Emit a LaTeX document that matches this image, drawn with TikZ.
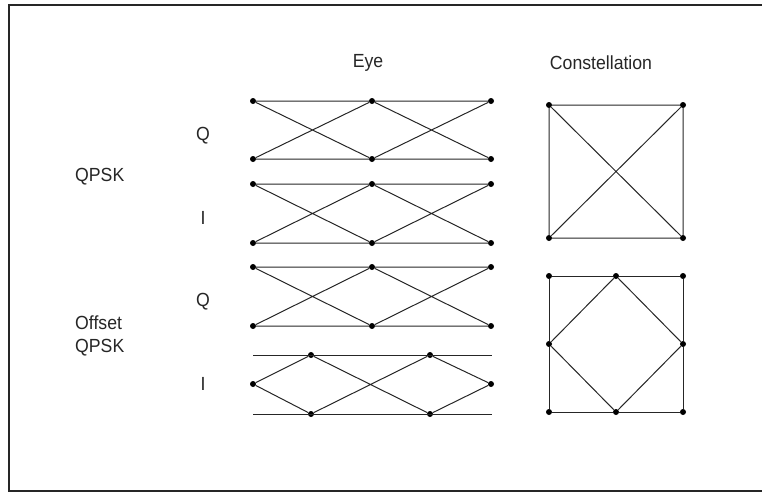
\documentclass[tikz,border=0pt]{standalone}
\usepackage{fontspec}
\setmainfont{Liberation Sans}[FakeStretch=0.93]
\begin{document}
\begin{tikzpicture}[x=1pt,y=-1pt,
  dot/.style={circle,fill=black,inner sep=0pt,minimum size=6pt},
  wire/.style={draw=black!85,line width=1pt},
  lbl/.style={font=\fontsize{19}{23}\selectfont,inner sep=0pt,text=black!85}]
\useasboundingbox (0,0) rectangle (762,493);
\draw[line width=2pt,black!85] (770,4.5) -- (8.5,4.5) -- (8.5,490.5) -- (770,490.5);

% labels
\node[lbl] (eye) at (368,63) {Eye};
\node[lbl] (con) at (601,63) {Constellation};
\node[lbl] (q1) at (203,136) {Q};
\node[lbl,anchor=west] (qpsk) at (75,177) {QPSK};
\node[lbl] (i1) at (203,218) {I};
\node[lbl] (q2) at (203,302) {Q};
\node[lbl,anchor=west,align=left] (oqpsk) at (75,336) {Offset\\QPSK};
\node[lbl] (i2) at (203,384) {I};

% QPSK Q eye
\node[dot] (a1) at (253,101) {};
\node[dot] (a2) at (372,101) {};
\node[dot] (a3) at (491,101) {};
\node[dot] (a4) at (253,159) {};
\node[dot] (a5) at (372,159) {};
\node[dot] (a6) at (491,159) {};
\draw[wire] (a1)--(a2)--(a3) (a4)--(a5)--(a6) (a1)--(a5)--(a3) (a4)--(a2)--(a6);

% QPSK I eye
\node[dot] (b1) at (253,184) {};
\node[dot] (b2) at (372,184) {};
\node[dot] (b3) at (491,184) {};
\node[dot] (b4) at (253,243) {};
\node[dot] (b5) at (372,243) {};
\node[dot] (b6) at (491,243) {};
\draw[wire] (b1)--(b2)--(b3) (b4)--(b5)--(b6) (b1)--(b5)--(b3) (b4)--(b2)--(b6);

% Offset Q eye
\node[dot] (c1) at (253,267) {};
\node[dot] (c2) at (372,267) {};
\node[dot] (c3) at (491,267) {};
\node[dot] (c4) at (253,326) {};
\node[dot] (c5) at (372,326) {};
\node[dot] (c6) at (491,326) {};
\draw[wire] (c1)--(c2)--(c3) (c4)--(c5)--(c6) (c1)--(c5)--(c3) (c4)--(c2)--(c6);

% Offset I eye
\coordinate (dtl) at (253,355);
\coordinate (dtr) at (492,355);
\coordinate (dbl) at (253,414);
\coordinate (dbr) at (492,414);
\node[dot] (d1) at (253,384) {};
\node[dot] (d2) at (311,355) {};
\node[dot] (d3) at (311,414) {};
\node[dot] (d4) at (430,355) {};
\node[dot] (d5) at (430,414) {};
\node[dot] (d6) at (491,384) {};
\draw[wire] (dtl)--(dtr) (dbl)--(dbr);
\draw[wire] (d1)--(d2)--(d5)--(d6) (d1)--(d3)--(d4)--(d6);

% QPSK constellation
\node[dot] (e1) at (549,105) {};
\node[dot] (e2) at (683,105) {};
\node[dot] (e3) at (683,238) {};
\node[dot] (e4) at (549,238) {};
\draw[wire] (e1)--(e2)--(e3)--(e4)--(e1) (e1)--(e3) (e2)--(e4);

% Offset QPSK constellation
\node[dot] (f1) at (549,276) {};
\node[dot] (f2) at (616,276) {};
\node[dot] (f3) at (683,276) {};
\node[dot] (f4) at (683,344) {};
\node[dot] (f5) at (683,412) {};
\node[dot] (f6) at (616,412) {};
\node[dot] (f7) at (549,412) {};
\node[dot] (f8) at (549,344) {};
\draw[wire] (f1)--(f2)--(f3)--(f4)--(f5)--(f6)--(f7)--(f8)--(f1);
\draw[wire] (f2)--(f4)--(f6)--(f8)--(f2);
\end{tikzpicture}
\end{document}
